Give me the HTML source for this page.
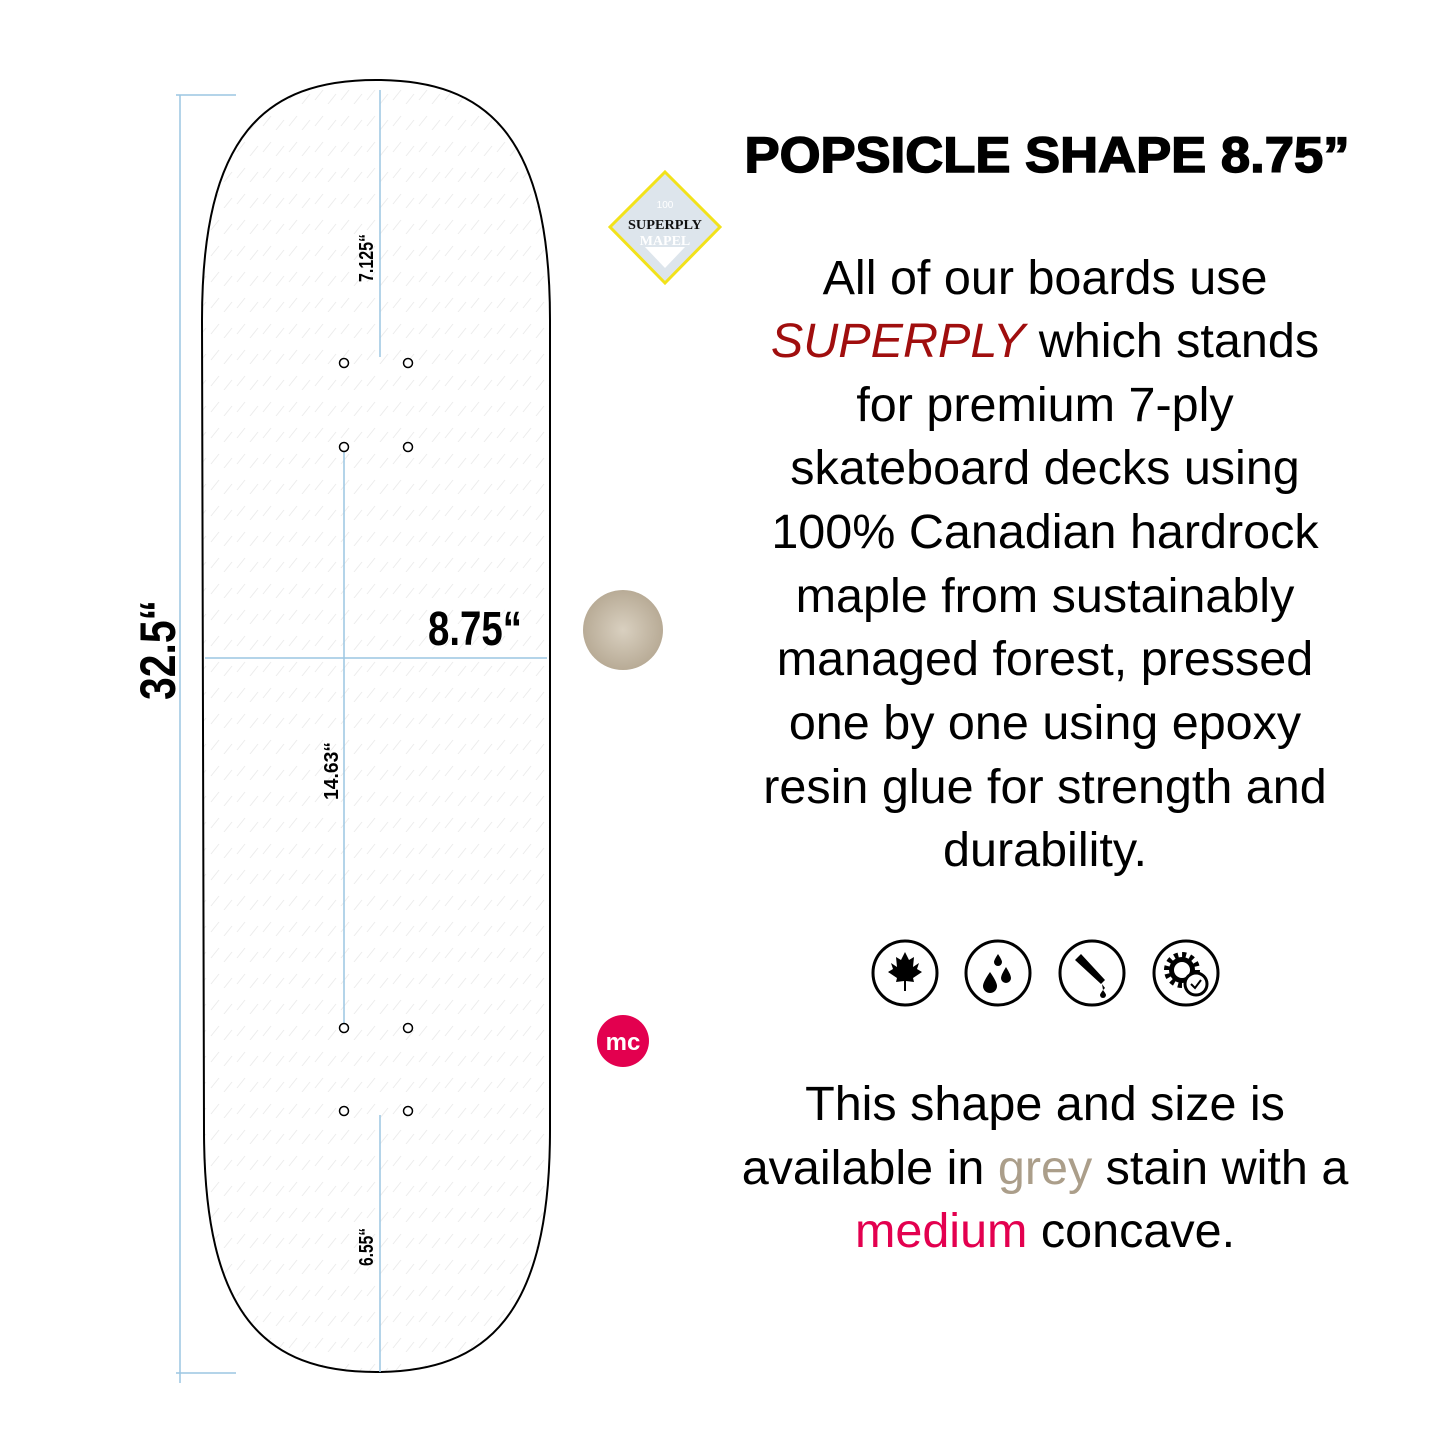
<!DOCTYPE html>
<html><head><meta charset="utf-8"><style>html,body{margin:0;padding:0;background:#fff}svg{display:block}</style></head>
<body>
<svg width="1445" height="1445" viewBox="0 0 1445 1445" xmlns="http://www.w3.org/2000/svg">
<defs>
<pattern id="h" width="26" height="26" patternUnits="userSpaceOnUse">
<path d="M3,22 L11,12 M16,26 L24,16" stroke="#ececec" stroke-width="1"/>
</pattern>
<clipPath id="dk"><path d="M202,320 C202,135 265,80 376,80 C487,80 550,135 550,320 L550,1130 C550,1315 487,1372 376,1372 C265,1372 204,1315 204,1130 Z"/></clipPath>
<radialGradient id="wood" cx="50%" cy="50%" r="50%"><stop offset="0" stop-color="#d9d0c0"/><stop offset="1" stop-color="#b8ab96"/></radialGradient>
</defs>
<rect x="190" y="60" width="380" height="1330" fill="url(#h)" clip-path="url(#dk)"/>
<path d="M202,320 C202,135 265,80 376,80 C487,80 550,135 550,320 L550,1130 C550,1315 487,1372 376,1372 C265,1372 204,1315 204,1130 Z" fill="none" stroke="#000" stroke-width="2"/>
<g stroke="#9cc6e2" stroke-width="1.5" fill="none">
<line x1="180" y1="95" x2="180" y2="1383"/>
<line x1="176" y1="95" x2="236" y2="95"/>
<line x1="176" y1="1373" x2="236" y2="1373"/>
<line x1="205" y1="658" x2="547" y2="658"/>
<line x1="380" y1="90" x2="380" y2="357"/>
<line x1="344" y1="447" x2="344" y2="1027"/>
<line x1="380" y1="1115" x2="380" y2="1372"/>
</g>
<g fill="#fff" stroke="#000" stroke-width="1.5">
<circle cx="344" cy="363" r="4.5"/><circle cx="408" cy="363" r="4.5"/>
<circle cx="344" cy="447" r="4.5"/><circle cx="408" cy="447" r="4.5"/>
<circle cx="344" cy="1028" r="4.5"/><circle cx="408" cy="1028" r="4.5"/>
<circle cx="344" cy="1111" r="4.5"/><circle cx="408" cy="1111" r="4.5"/>
</g>
<g font-family="Liberation Sans Narrow, Liberation Sans, sans-serif" font-weight="bold" fill="#000">
<text transform="translate(175,700) rotate(-90)" font-size="50" textLength="100" lengthAdjust="spacingAndGlyphs">32.5“</text>
<text x="428" y="645" font-size="48" textLength="94" lengthAdjust="spacingAndGlyphs">8.75“</text>
<text transform="translate(373,282) rotate(-90)" font-size="20" textLength="48" lengthAdjust="spacingAndGlyphs">7.125“</text>
<text transform="translate(338,800) rotate(-90)" font-size="20" textLength="58" lengthAdjust="spacingAndGlyphs">14.63“</text>
<text transform="translate(373,1266) rotate(-90)" font-size="20" textLength="38" lengthAdjust="spacingAndGlyphs">6.55“</text>
</g>
<polygon points="665,172 720,227 665,283 610,227" fill="#dde5ec" stroke="#f2e21a" stroke-width="3"/>
<polygon points="645,247 685,247 665,268" fill="#fff"/>
<text x="665" y="208" font-family="Liberation Sans" font-size="10" fill="#fff" text-anchor="middle">100</text>
<text x="665" y="229" font-family="Liberation Serif, serif" font-weight="bold" font-size="14" fill="#111" text-anchor="middle" textLength="74" lengthAdjust="spacingAndGlyphs">SUPERPLY</text>
<text x="665" y="245" font-family="Liberation Serif, serif" font-weight="bold" font-size="14" fill="#fff" text-anchor="middle">MAPEL</text>
<circle cx="623" cy="630" r="40" fill="url(#wood)"/>
<circle cx="623" cy="1041" r="26" fill="#e3004f"/>
<text x="623" y="1050" font-family="Liberation Sans" font-weight="bold" font-size="24" fill="#fff" text-anchor="middle">mc</text>
<text x="1047" y="172" font-family="Liberation Sans, sans-serif" font-weight="bold" font-size="50" text-anchor="middle" textLength="605" lengthAdjust="spacingAndGlyphs" stroke="#000" stroke-width="1.5">POPSICLE SHAPE 8.75”</text>
<g font-family="Liberation Sans, sans-serif" font-size="48.5" text-anchor="middle" fill="#000">
<text x="1045" y="294">All of our boards use</text>
<text x="1045" y="357"><tspan fill="#a00e0e" font-style="italic">SUPERPLY</tspan> which stands</text>
<text x="1045" y="421">for premium 7-ply</text>
<text x="1045" y="484">skateboard decks using</text>
<text x="1045" y="548">100% Canadian hardrock</text>
<text x="1045" y="612">maple from sustainably</text>
<text x="1045" y="675">managed forest, pressed</text>
<text x="1045" y="739">one by one using epoxy</text>
<text x="1045" y="803">resin glue for strength and</text>
<text x="1045" y="866">durability.</text>
<text x="1045" y="1120">This shape and size is</text>
<text x="1045" y="1184">available in <tspan fill="#ab9e8a">grey</tspan> stain with a</text>
<text x="1045" y="1247"><tspan fill="#e3004f">medium</tspan> concave.</text>
</g>
<g fill="none" stroke="#000" stroke-width="3">
<circle cx="905" cy="973" r="32"/><circle cx="998" cy="973" r="32"/>
<circle cx="1092" cy="973" r="32"/><circle cx="1186" cy="973" r="32"/>
</g>
<path d="M905,952 l4,8 5,-3 -1,10 6,-4 -2,6 5,3 -9,6 1,4 -8,-1 v10 h-2 v-10 l-8,1 1,-4 -9,-6 5,-3 -2,-6 6,4 -1,-10 5,3 z" fill="#000"/>
<path d="M990,972 q-7,10 -7,14 a7,7 0 0 0 14,0 q0,-4 -7,-14z M1006,967 q-5,8 -5,11 a5,5 0 0 0 10,0 q0,-3 -5,-11z M998,954 q-4,6 -4,8 a4,4 0 0 0 8,0 q0,-2 -4,-8z" fill="#000"/>
<path d="M1075,960 l6,-6 24,26 -4,4 z M1102,984 l3,4 -2,2 z" fill="#000"/>
<path d="M1103,990 q-3,4 -3,5 a3,3 0 0 0 6,0 q0,-1 -3,-5z" fill="#000"/>
<circle cx="1182" cy="970" r="15" fill="none" stroke="#000" stroke-width="6" stroke-dasharray="4 3.85"/>
<circle cx="1182" cy="970" r="13" fill="#000"/>
<circle cx="1182" cy="970" r="8" fill="#fff"/>
<circle cx="1196" cy="984" r="11" fill="#fff" stroke="#000" stroke-width="3"/>
<path d="M1191,984 l4,4 6,-8" fill="none" stroke="#000" stroke-width="2"/>
</svg>
</body></html>
